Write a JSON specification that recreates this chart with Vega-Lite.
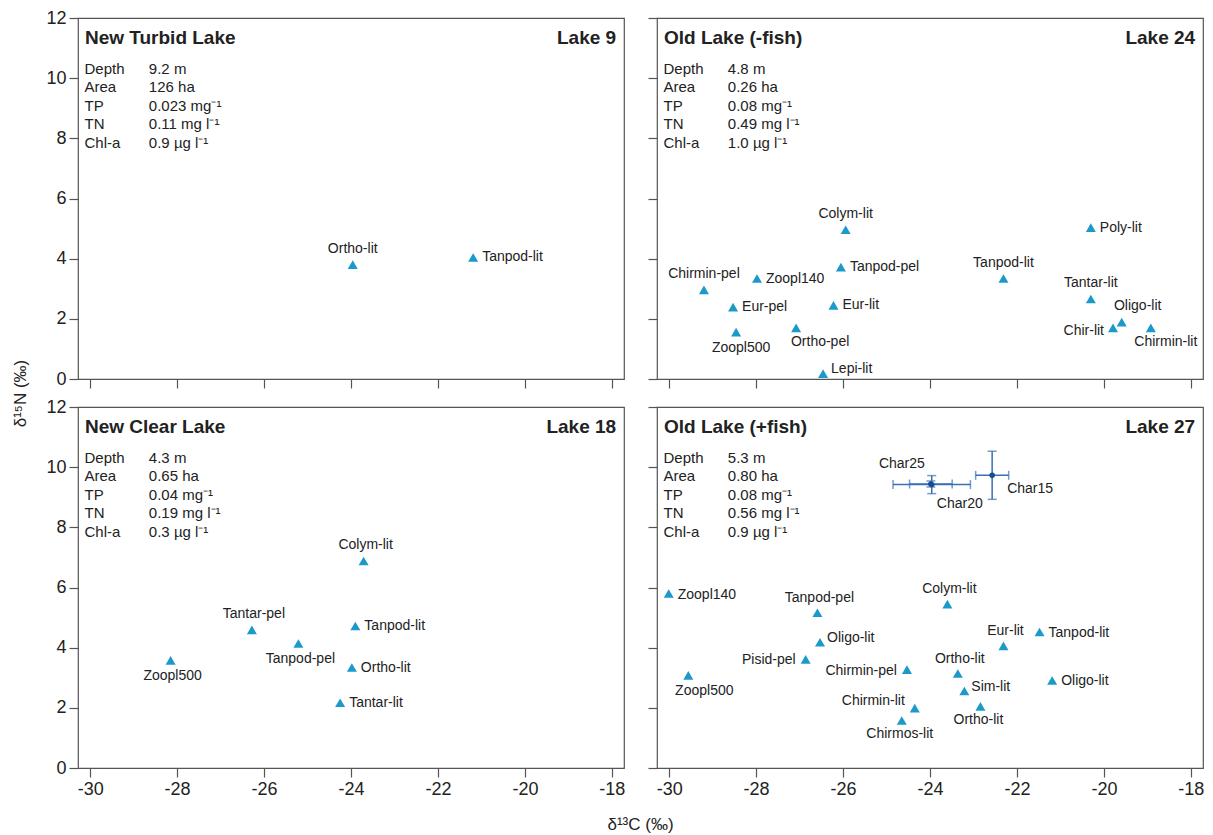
{
  "$schema": "https://vega.github.io/schema/vega-lite/v6.json",
  "padding": {"left": 10, "top": 8, "right": 5, "bottom": 5},
  "background": "white",
  "datasets": {
    "pts": [
      {"lake": "L9", "taxon": "Ortho-lit", "d13C": -23.96, "d15N": 3.80},
      {"lake": "L9", "taxon": "Tanpod-lit", "d13C": -21.19, "d15N": 4.04},
      {"lake": "L24", "taxon": "Colym-lit", "d13C": -25.94, "d15N": 4.96},
      {"lake": "L24", "taxon": "Poly-lit", "d13C": -20.30, "d15N": 5.03},
      {"lake": "L24", "taxon": "Tanpod-pel", "d13C": -26.05, "d15N": 3.72},
      {"lake": "L24", "taxon": "Zoopl140", "d13C": -27.98, "d15N": 3.34},
      {"lake": "L24", "taxon": "Chirmin-pel", "d13C": -29.20, "d15N": 2.96},
      {"lake": "L24", "taxon": "Tanpod-lit", "d13C": -22.31, "d15N": 3.34},
      {"lake": "L24", "taxon": "Tantar-lit", "d13C": -20.30, "d15N": 2.66},
      {"lake": "L24", "taxon": "Eur-pel", "d13C": -28.53, "d15N": 2.39},
      {"lake": "L24", "taxon": "Eur-lit", "d13C": -26.22, "d15N": 2.45},
      {"lake": "L24", "taxon": "Oligo-lit", "d13C": -19.59, "d15N": 1.89},
      {"lake": "L24", "taxon": "Chir-lit", "d13C": -19.79, "d15N": 1.70},
      {"lake": "L24", "taxon": "Chirmin-lit", "d13C": -18.92, "d15N": 1.70},
      {"lake": "L24", "taxon": "Zoopl500", "d13C": -28.46, "d15N": 1.56},
      {"lake": "L24", "taxon": "Ortho-pel", "d13C": -27.08, "d15N": 1.70},
      {"lake": "L24", "taxon": "Lepi-lit", "d13C": -26.46, "d15N": 0.18},
      {"lake": "L18", "taxon": "Colym-lit", "d13C": -23.71, "d15N": 6.88},
      {"lake": "L18", "taxon": "Tanpod-lit", "d13C": -23.90, "d15N": 4.72},
      {"lake": "L18", "taxon": "Tantar-pel", "d13C": -26.28, "d15N": 4.59},
      {"lake": "L18", "taxon": "Tanpod-pel", "d13C": -25.21, "d15N": 4.14},
      {"lake": "L18", "taxon": "Zoopl500", "d13C": -28.15, "d15N": 3.58},
      {"lake": "L18", "taxon": "Ortho-lit", "d13C": -23.98, "d15N": 3.34},
      {"lake": "L18", "taxon": "Tantar-lit", "d13C": -24.25, "d15N": 2.17},
      {"lake": "L27", "taxon": "Zoopl140", "d13C": -30.01, "d15N": 5.80},
      {"lake": "L27", "taxon": "Colym-lit", "d13C": -23.60, "d15N": 5.45},
      {"lake": "L27", "taxon": "Tanpod-pel", "d13C": -26.59, "d15N": 5.16},
      {"lake": "L27", "taxon": "Tanpod-lit", "d13C": -21.48, "d15N": 4.52},
      {"lake": "L27", "taxon": "Eur-lit", "d13C": -22.31, "d15N": 4.06},
      {"lake": "L27", "taxon": "Oligo-lit", "d13C": -26.53, "d15N": 4.18},
      {"lake": "L27", "taxon": "Pisid-pel", "d13C": -26.86, "d15N": 3.61},
      {"lake": "L27", "taxon": "Chirmin-pel", "d13C": -24.53, "d15N": 3.27},
      {"lake": "L27", "taxon": "Ortho-lit", "d13C": -23.36, "d15N": 3.14},
      {"lake": "L27", "taxon": "Zoopl500", "d13C": -29.56, "d15N": 3.08},
      {"lake": "L27", "taxon": "Oligo-lit", "d13C": -21.19, "d15N": 2.91},
      {"lake": "L27", "taxon": "Sim-lit", "d13C": -23.21, "d15N": 2.56},
      {"lake": "L27", "taxon": "Chirmin-lit", "d13C": -24.35, "d15N": 1.99},
      {"lake": "L27", "taxon": "Ortho-lit", "d13C": -22.84, "d15N": 2.05},
      {"lake": "L27", "taxon": "Chirmos-lit", "d13C": -24.65, "d15N": 1.58}
    ],
    "fish": [
      {"lake": "L27", "taxon": "Char25", "d13C": -23.98, "d15N": 9.44, "xerr": 0.49, "yerr": 0.1},
      {"lake": "L27", "taxon": "Char20", "d13C": -23.96, "d15N": 9.42, "xerr": 0.89, "yerr": 0.3},
      {"lake": "L27", "taxon": "Char15", "d13C": -22.57, "d15N": 9.73, "xerr": 0.38, "yerr": 0.8}
    ],
    "info": [
      {"lake": "L9", "name": "New Turbid Lake", "lakeLabel": "Lake 9", "values": "9.2 m\n126 ha\n0.023 mg⁻¹\n0.11 mg l⁻¹\n0.9 µg l⁻¹"},
      {"lake": "L24", "name": "Old Lake (-fish)", "lakeLabel": "Lake 24", "values": "4.8 m\n0.26 ha\n0.08 mg⁻¹\n0.49 mg l⁻¹\n1.0 µg l⁻¹"},
      {"lake": "L18", "name": "New Clear Lake", "lakeLabel": "Lake 18", "values": "4.3 m\n0.65 ha\n0.04 mg⁻¹\n0.19 mg l⁻¹\n0.3 µg l⁻¹"},
      {"lake": "L27", "name": "Old Lake (+fish)", "lakeLabel": "Lake 27", "values": "5.3 m\n0.80 ha\n0.08 mg⁻¹\n0.56 mg l⁻¹\n0.9 µg l⁻¹"}
    ]
  },
  "config": {
    "font": "Liberation Sans",
    "view": {"stroke": "#555555", "strokeWidth": 1.2},
    "axis": {
      "grid": false, "domain": false, "tickColor": "#555555", "tickSize": 9, "tickWidth": 1.2,
      "labelFont": "Liberation Sans", "labelFontSize": 18, "labelColor": "#222222", "labelPadding": 3,
      "titleFont": "Liberation Sans", "titleFontSize": 17, "titleFontWeight": "normal", "titleColor": "#222222"
    },
    "text": {"font": "Liberation Sans", "color": "#222222", "fontSize": 14}
  },
  "columns": 2,
  "spacing": {"row": 28, "column": 33},
  "bounds": "flush",
  "concat": [
    {
      "width": 546, "height": 361,
      "layer": [
        {"data": {"name": "pts"}, "transform": [{"filter": "datum.lake == 'L9'"}],
         "mark": {"type": "point", "shape": "triangle-up", "filled": true, "size": 100, "color": "#1b9ac9", "opacity": 1},
         "encoding": {
           "x": {"field": "d13C", "type": "quantitative", "scale": {"domain": [-30.28, -17.72], "nice": false, "zero": false},
                 "axis": {"values": [-30, -28, -26, -24, -22, -20, -18], "labels": false, "title": null}},
           "y": {"field": "d15N", "type": "quantitative", "scale": {"domain": [0, 12], "nice": false, "zero": false},
                 "axis": {"values": [0, 2, 4, 6, 8, 10, 12], "title": "δ¹⁵N (‰)", "titleX": -58, "titleY": 375, "titleAngle": -90, "titleAlign": "center", "titleBaseline": "middle"}}
         }},
        {"data": {"name": "pts"}, "transform": [{"filter": "datum.lake == 'L9' && datum.taxon == 'Ortho-lit'"}],
         "mark": {"type": "text", "align": "center", "baseline": "middle", "dy": -16},
         "encoding": {"x": {"field": "d13C", "type": "quantitative"}, "y": {"field": "d15N", "type": "quantitative"}, "text": {"field": "taxon"}}},
        {"data": {"name": "pts"}, "transform": [{"filter": "datum.lake == 'L9' && datum.taxon == 'Tanpod-lit'"}],
         "mark": {"type": "text", "align": "left", "baseline": "middle", "dx": 9},
         "encoding": {"x": {"field": "d13C", "type": "quantitative"}, "y": {"field": "d15N", "type": "quantitative"}, "text": {"field": "taxon"}}},
        {"data": {"name": "info"}, "transform": [{"filter": "datum.lake == 'L9'"}],
         "mark": {"type": "text", "align": "left", "baseline": "middle", "fontSize": 19, "fontWeight": "bold"},
         "encoding": {"x": {"datum": -30.12, "type": "quantitative"}, "y": {"datum": 11.33, "type": "quantitative"}, "text": {"field": "name"}}},
        {"data": {"name": "info"}, "transform": [{"filter": "datum.lake == 'L9'"}],
         "mark": {"type": "text", "align": "right", "baseline": "middle", "fontSize": 19, "fontWeight": "bold"},
         "encoding": {"x": {"datum": -17.9, "type": "quantitative"}, "y": {"datum": 11.33, "type": "quantitative"}, "text": {"field": "lakeLabel"}}},
        {"data": {"name": "info"}, "transform": [{"filter": "datum.lake == 'L9'"}],
         "mark": {"type": "text", "align": "left", "baseline": "top", "fontSize": 15, "lineBreak": "\n", "lineHeight": 18.5},
         "encoding": {"x": {"datum": -30.13, "type": "quantitative"}, "y": {"datum": 10.55, "type": "quantitative"}, "text": {"value": "Depth\nArea\nTP\nTN\nChl-a"}}},
        {"data": {"name": "info"}, "transform": [{"filter": "datum.lake == 'L9'"}],
         "mark": {"type": "text", "align": "left", "baseline": "top", "fontSize": 15, "lineBreak": "\n", "lineHeight": 18.5},
         "encoding": {"x": {"datum": -28.65, "type": "quantitative"}, "y": {"datum": 10.55, "type": "quantitative"}, "text": {"field": "values"}}}
      ]
    },
    {
      "width": 546, "height": 361,
      "layer": [
        {"data": {"name": "pts"}, "transform": [{"filter": "datum.lake == 'L24'"}],
         "mark": {"type": "point", "shape": "triangle-up", "filled": true, "size": 100, "color": "#1b9ac9", "opacity": 1},
         "encoding": {
           "x": {"field": "d13C", "type": "quantitative", "scale": {"domain": [-30.28, -17.72], "nice": false, "zero": false},
                 "axis": {"values": [-30, -28, -26, -24, -22, -20, -18], "labels": false, "title": null}},
           "y": {"field": "d15N", "type": "quantitative", "scale": {"domain": [0, 12], "nice": false, "zero": false},
                 "axis": {"values": [0, 2, 4, 6, 8, 10, 12], "labels": false, "title": null}}
         }},
        {"data": {"name": "pts"}, "transform": [{"filter": "datum.lake == 'L24' && indexof(['Colym-lit','Chirmin-pel','Tanpod-lit','Tantar-lit'], datum.taxon) >= 0"}],
         "mark": {"type": "text", "align": "center", "baseline": "middle", "dy": -16},
         "encoding": {"x": {"field": "d13C", "type": "quantitative"}, "y": {"field": "d15N", "type": "quantitative"}, "text": {"field": "taxon"}}},
        {"data": {"name": "pts"}, "transform": [{"filter": "datum.lake == 'L24' && datum.taxon == 'Oligo-lit'"}],
         "mark": {"type": "text", "align": "center", "baseline": "middle", "dx": 16, "dy": -16},
         "encoding": {"x": {"field": "d13C", "type": "quantitative"}, "y": {"field": "d15N", "type": "quantitative"}, "text": {"field": "taxon"}}},
        {"data": {"name": "pts"}, "transform": [{"filter": "datum.lake == 'L24' && datum.taxon == 'Zoopl500'"}],
         "mark": {"type": "text", "align": "center", "baseline": "middle", "dx": 5, "dy": 16},
         "encoding": {"x": {"field": "d13C", "type": "quantitative"}, "y": {"field": "d15N", "type": "quantitative"}, "text": {"field": "taxon"}}},
        {"data": {"name": "pts"}, "transform": [{"filter": "datum.lake == 'L24' && datum.taxon == 'Chirmin-lit'"}],
         "mark": {"type": "text", "align": "center", "baseline": "middle", "dx": 15, "dy": 14},
         "encoding": {"x": {"field": "d13C", "type": "quantitative"}, "y": {"field": "d15N", "type": "quantitative"}, "text": {"field": "taxon"}}},
        {"data": {"name": "pts"}, "transform": [{"filter": "datum.lake == 'L24' && datum.taxon == 'Ortho-pel'"}],
         "mark": {"type": "text", "align": "center", "baseline": "middle", "dx": 24, "dy": 14},
         "encoding": {"x": {"field": "d13C", "type": "quantitative"}, "y": {"field": "d15N", "type": "quantitative"}, "text": {"field": "taxon"}}},
        {"data": {"name": "pts"}, "transform": [{"filter": "datum.lake == 'L24' && indexof(['Poly-lit','Tanpod-pel','Zoopl140','Eur-pel','Eur-lit'], datum.taxon) >= 0"}],
         "mark": {"type": "text", "align": "left", "baseline": "middle", "dx": 9},
         "encoding": {"x": {"field": "d13C", "type": "quantitative"}, "y": {"field": "d15N", "type": "quantitative"}, "text": {"field": "taxon"}}},
        {"data": {"name": "pts"}, "transform": [{"filter": "datum.lake == 'L24' && datum.taxon == 'Lepi-lit'"}],
         "mark": {"type": "text", "align": "left", "baseline": "middle", "dx": 8, "dy": -5},
         "encoding": {"x": {"field": "d13C", "type": "quantitative"}, "y": {"field": "d15N", "type": "quantitative"}, "text": {"field": "taxon"}}},
        {"data": {"name": "pts"}, "transform": [{"filter": "datum.lake == 'L24' && datum.taxon == 'Chir-lit'"}],
         "mark": {"type": "text", "align": "right", "baseline": "middle", "dx": -9, "dy": 3},
         "encoding": {"x": {"field": "d13C", "type": "quantitative"}, "y": {"field": "d15N", "type": "quantitative"}, "text": {"field": "taxon"}}},
        {"data": {"name": "info"}, "transform": [{"filter": "datum.lake == 'L24'"}],
         "mark": {"type": "text", "align": "left", "baseline": "middle", "fontSize": 19, "fontWeight": "bold"},
         "encoding": {"x": {"datum": -30.12, "type": "quantitative"}, "y": {"datum": 11.33, "type": "quantitative"}, "text": {"field": "name"}}},
        {"data": {"name": "info"}, "transform": [{"filter": "datum.lake == 'L24'"}],
         "mark": {"type": "text", "align": "right", "baseline": "middle", "fontSize": 19, "fontWeight": "bold"},
         "encoding": {"x": {"datum": -17.9, "type": "quantitative"}, "y": {"datum": 11.33, "type": "quantitative"}, "text": {"field": "lakeLabel"}}},
        {"data": {"name": "info"}, "transform": [{"filter": "datum.lake == 'L24'"}],
         "mark": {"type": "text", "align": "left", "baseline": "top", "fontSize": 15, "lineBreak": "\n", "lineHeight": 18.5},
         "encoding": {"x": {"datum": -30.13, "type": "quantitative"}, "y": {"datum": 10.55, "type": "quantitative"}, "text": {"value": "Depth\nArea\nTP\nTN\nChl-a"}}},
        {"data": {"name": "info"}, "transform": [{"filter": "datum.lake == 'L24'"}],
         "mark": {"type": "text", "align": "left", "baseline": "top", "fontSize": 15, "lineBreak": "\n", "lineHeight": 18.5},
         "encoding": {"x": {"datum": -28.65, "type": "quantitative"}, "y": {"datum": 10.55, "type": "quantitative"}, "text": {"field": "values"}}}
      ]
    },
    {
      "width": 546, "height": 361,
      "layer": [
        {"data": {"name": "pts"}, "transform": [{"filter": "datum.lake == 'L18'"}],
         "mark": {"type": "point", "shape": "triangle-up", "filled": true, "size": 100, "color": "#1b9ac9", "opacity": 1},
         "encoding": {
           "x": {"field": "d13C", "type": "quantitative", "scale": {"domain": [-30.28, -17.72], "nice": false, "zero": false},
                 "axis": {"values": [-30, -28, -26, -24, -22, -20, -18], "labelExpr": "datum.value < 0 ? '-' + abs(datum.value) : '' + datum.value", "title": "δ¹³C (‰)", "titleX": 562, "titleY": 56, "titleAlign": "center", "titleBaseline": "middle"}},
           "y": {"field": "d15N", "type": "quantitative", "scale": {"domain": [0, 12], "nice": false, "zero": false},
                 "axis": {"values": [0, 2, 4, 6, 8, 10, 12], "title": null}}
         }},
        {"data": {"name": "pts"}, "transform": [{"filter": "datum.lake == 'L18' && indexof(['Colym-lit','Tantar-pel'], datum.taxon) >= 0"}],
         "mark": {"type": "text", "align": "center", "baseline": "middle", "dx": 2, "dy": -16},
         "encoding": {"x": {"field": "d13C", "type": "quantitative"}, "y": {"field": "d15N", "type": "quantitative"}, "text": {"field": "taxon"}}},
        {"data": {"name": "pts"}, "transform": [{"filter": "datum.lake == 'L18' && indexof(['Tanpod-pel','Zoopl500'], datum.taxon) >= 0"}],
         "mark": {"type": "text", "align": "center", "baseline": "middle", "dx": 2, "dy": 16},
         "encoding": {"x": {"field": "d13C", "type": "quantitative"}, "y": {"field": "d15N", "type": "quantitative"}, "text": {"field": "taxon"}}},
        {"data": {"name": "pts"}, "transform": [{"filter": "datum.lake == 'L18' && indexof(['Tanpod-lit','Ortho-lit','Tantar-lit'], datum.taxon) >= 0"}],
         "mark": {"type": "text", "align": "left", "baseline": "middle", "dx": 9},
         "encoding": {"x": {"field": "d13C", "type": "quantitative"}, "y": {"field": "d15N", "type": "quantitative"}, "text": {"field": "taxon"}}},
        {"data": {"name": "info"}, "transform": [{"filter": "datum.lake == 'L18'"}],
         "mark": {"type": "text", "align": "left", "baseline": "middle", "fontSize": 19, "fontWeight": "bold"},
         "encoding": {"x": {"datum": -30.12, "type": "quantitative"}, "y": {"datum": 11.33, "type": "quantitative"}, "text": {"field": "name"}}},
        {"data": {"name": "info"}, "transform": [{"filter": "datum.lake == 'L18'"}],
         "mark": {"type": "text", "align": "right", "baseline": "middle", "fontSize": 19, "fontWeight": "bold"},
         "encoding": {"x": {"datum": -17.9, "type": "quantitative"}, "y": {"datum": 11.33, "type": "quantitative"}, "text": {"field": "lakeLabel"}}},
        {"data": {"name": "info"}, "transform": [{"filter": "datum.lake == 'L18'"}],
         "mark": {"type": "text", "align": "left", "baseline": "top", "fontSize": 15, "lineBreak": "\n", "lineHeight": 18.5},
         "encoding": {"x": {"datum": -30.13, "type": "quantitative"}, "y": {"datum": 10.55, "type": "quantitative"}, "text": {"value": "Depth\nArea\nTP\nTN\nChl-a"}}},
        {"data": {"name": "info"}, "transform": [{"filter": "datum.lake == 'L18'"}],
         "mark": {"type": "text", "align": "left", "baseline": "top", "fontSize": 15, "lineBreak": "\n", "lineHeight": 18.5},
         "encoding": {"x": {"datum": -28.65, "type": "quantitative"}, "y": {"datum": 10.55, "type": "quantitative"}, "text": {"field": "values"}}}
      ]
    },
    {
      "width": 546, "height": 361,
      "layer": [
        {"data": {"name": "pts"}, "transform": [{"filter": "datum.lake == 'L27'"}],
         "mark": {"type": "point", "shape": "triangle-up", "filled": true, "size": 100, "color": "#1b9ac9", "opacity": 1},
         "encoding": {
           "x": {"field": "d13C", "type": "quantitative", "scale": {"domain": [-30.28, -17.72], "nice": false, "zero": false},
                 "axis": {"values": [-30, -28, -26, -24, -22, -20, -18], "labelExpr": "datum.value < 0 ? '-' + abs(datum.value) : '' + datum.value", "title": null}},
           "y": {"field": "d15N", "type": "quantitative", "scale": {"domain": [0, 12], "nice": false, "zero": false},
                 "axis": {"values": [0, 2, 4, 6, 8, 10, 12], "labels": false, "title": null}}
         }},
        {"data": {"name": "fish"},
         "mark": {"type": "errorbar", "ticks": true, "size": 9, "thickness": 1.5, "color": "#3a6fb5"},
         "encoding": {"x": {"field": "d13C", "type": "quantitative"}, "xError": {"field": "xerr"}, "y": {"field": "d15N", "type": "quantitative"}}},
        {"data": {"name": "fish"},
         "mark": {"type": "errorbar", "ticks": true, "size": 9, "thickness": 1.5, "color": "#3a6fb5"},
         "encoding": {"y": {"field": "d15N", "type": "quantitative"}, "yError": {"field": "yerr"}, "x": {"field": "d13C", "type": "quantitative"}}},
        {"data": {"name": "fish"},
         "mark": {"type": "point", "shape": "circle", "filled": true, "size": 30, "color": "#164d8e", "opacity": 1},
         "encoding": {"x": {"field": "d13C", "type": "quantitative"}, "y": {"field": "d15N", "type": "quantitative"}}},
        {"data": {"name": "fish"}, "transform": [{"filter": "datum.taxon == 'Char25'"}],
         "mark": {"type": "text", "align": "center", "baseline": "middle", "dx": -29, "dy": -20},
         "encoding": {"x": {"field": "d13C", "type": "quantitative"}, "y": {"field": "d15N", "type": "quantitative"}, "text": {"field": "taxon"}}},
        {"data": {"name": "fish"}, "transform": [{"filter": "datum.taxon == 'Char20'"}],
         "mark": {"type": "text", "align": "center", "baseline": "middle", "dx": 28, "dy": 19},
         "encoding": {"x": {"field": "d13C", "type": "quantitative"}, "y": {"field": "d15N", "type": "quantitative"}, "text": {"field": "taxon"}}},
        {"data": {"name": "fish"}, "transform": [{"filter": "datum.taxon == 'Char15'"}],
         "mark": {"type": "text", "align": "left", "baseline": "middle", "dx": 15, "dy": 14},
         "encoding": {"x": {"field": "d13C", "type": "quantitative"}, "y": {"field": "d15N", "type": "quantitative"}, "text": {"field": "taxon"}}},
        {"data": {"name": "pts"}, "transform": [{"filter": "datum.lake == 'L27' && (indexof(['Colym-lit','Tanpod-pel','Eur-lit'], datum.taxon) >= 0 || (datum.taxon == 'Ortho-lit' && datum.d15N > 3))"}],
         "mark": {"type": "text", "align": "center", "baseline": "middle", "dx": 2, "dy": -15},
         "encoding": {"x": {"field": "d13C", "type": "quantitative"}, "y": {"field": "d15N", "type": "quantitative"}, "text": {"field": "taxon"}}},
        {"data": {"name": "pts"}, "transform": [{"filter": "datum.lake == 'L27' && (datum.taxon == 'Chirmos-lit' || (datum.taxon == 'Ortho-lit' && datum.d15N < 3))"}],
         "mark": {"type": "text", "align": "center", "baseline": "middle", "dx": -2, "dy": 14},
         "encoding": {"x": {"field": "d13C", "type": "quantitative"}, "y": {"field": "d15N", "type": "quantitative"}, "text": {"field": "taxon"}}},
        {"data": {"name": "pts"}, "transform": [{"filter": "datum.lake == 'L27' && datum.taxon == 'Zoopl500'"}],
         "mark": {"type": "text", "align": "center", "baseline": "middle", "dx": 16, "dy": 16},
         "encoding": {"x": {"field": "d13C", "type": "quantitative"}, "y": {"field": "d15N", "type": "quantitative"}, "text": {"field": "taxon"}}},
        {"data": {"name": "pts"}, "transform": [{"filter": "datum.lake == 'L27' && (indexof(['Zoopl140','Tanpod-lit'], datum.taxon) >= 0 || (datum.taxon == 'Oligo-lit' && datum.d13C > -25))"}],
         "mark": {"type": "text", "align": "left", "baseline": "middle", "dx": 9, "dy": 1},
         "encoding": {"x": {"field": "d13C", "type": "quantitative"}, "y": {"field": "d15N", "type": "quantitative"}, "text": {"field": "taxon"}}},
        {"data": {"name": "pts"}, "transform": [{"filter": "datum.lake == 'L27' && (datum.taxon == 'Sim-lit' || (datum.taxon == 'Oligo-lit' && datum.d13C < -25))"}],
         "mark": {"type": "text", "align": "left", "baseline": "middle", "dx": 7, "dy": -4},
         "encoding": {"x": {"field": "d13C", "type": "quantitative"}, "y": {"field": "d15N", "type": "quantitative"}, "text": {"field": "taxon"}}},
        {"data": {"name": "pts"}, "transform": [{"filter": "datum.lake == 'L27' && indexof(['Pisid-pel','Chirmin-pel'], datum.taxon) >= 0"}],
         "mark": {"type": "text", "align": "right", "baseline": "middle", "dx": -10, "dy": 1},
         "encoding": {"x": {"field": "d13C", "type": "quantitative"}, "y": {"field": "d15N", "type": "quantitative"}, "text": {"field": "taxon"}}},
        {"data": {"name": "pts"}, "transform": [{"filter": "datum.lake == 'L27' && datum.taxon == 'Chirmin-lit'"}],
         "mark": {"type": "text", "align": "right", "baseline": "middle", "dx": -10, "dy": -7},
         "encoding": {"x": {"field": "d13C", "type": "quantitative"}, "y": {"field": "d15N", "type": "quantitative"}, "text": {"field": "taxon"}}},
        {"data": {"name": "info"}, "transform": [{"filter": "datum.lake == 'L27'"}],
         "mark": {"type": "text", "align": "left", "baseline": "middle", "fontSize": 19, "fontWeight": "bold"},
         "encoding": {"x": {"datum": -30.12, "type": "quantitative"}, "y": {"datum": 11.33, "type": "quantitative"}, "text": {"field": "name"}}},
        {"data": {"name": "info"}, "transform": [{"filter": "datum.lake == 'L27'"}],
         "mark": {"type": "text", "align": "right", "baseline": "middle", "fontSize": 19, "fontWeight": "bold"},
         "encoding": {"x": {"datum": -17.9, "type": "quantitative"}, "y": {"datum": 11.33, "type": "quantitative"}, "text": {"field": "lakeLabel"}}},
        {"data": {"name": "info"}, "transform": [{"filter": "datum.lake == 'L27'"}],
         "mark": {"type": "text", "align": "left", "baseline": "top", "fontSize": 15, "lineBreak": "\n", "lineHeight": 18.5},
         "encoding": {"x": {"datum": -30.13, "type": "quantitative"}, "y": {"datum": 10.55, "type": "quantitative"}, "text": {"value": "Depth\nArea\nTP\nTN\nChl-a"}}},
        {"data": {"name": "info"}, "transform": [{"filter": "datum.lake == 'L27'"}],
         "mark": {"type": "text", "align": "left", "baseline": "top", "fontSize": 15, "lineBreak": "\n", "lineHeight": 18.5},
         "encoding": {"x": {"datum": -28.65, "type": "quantitative"}, "y": {"datum": 10.55, "type": "quantitative"}, "text": {"field": "values"}}}
      ]
    }
  ]
}
